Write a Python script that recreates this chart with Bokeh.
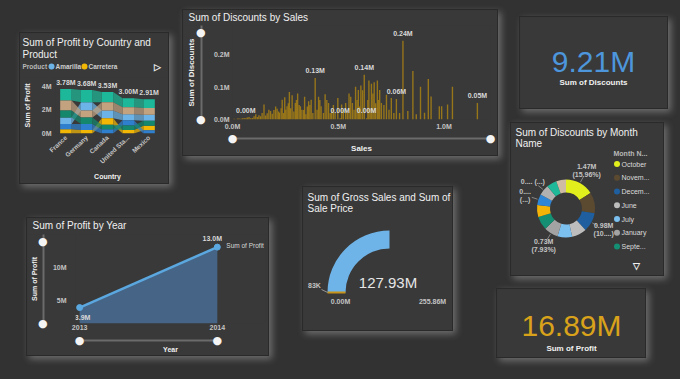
import math
from bokeh.plotting import figure
from bokeh.models import (Range1d, Label, LabelSet, ColumnDataSource, FixedTicker,
                          PrintfTickFormatter, CustomJSTickFormatter, LinearAxis)
from bokeh.layouts import column
from bokeh.embed import file_html
from bokeh.resources import INLINE
from bokeh.core.properties import value

# ---------------------------------------------------------------- data
countries = ["France", "Germany", "Canada", "United Sta...", "Mexico"]
products = ["Amarilla", "Carretera", "Montana", "Paseo", "Velo", "VTT"]
product_colors = ["#6cb4e8", "#f2b705", "#2f7fcf", "#1db899", "#c2a27f", "#14876c"]
profit_amarilla = [0.55, 0.70, 0.65, 0.50, 0.50]
profit_carretera = [0.35, 0.30, 0.55, 0.30, 0.38]
profit_montana = [0.45, 0.50, 0.35, 0.45, 0.28]
profit_paseo = [0.98, 1.03, 0.88, 0.77, 0.75]
profit_velo = [0.85, 0.60, 0.70, 0.60, 0.58]
profit_vtt = [0.60, 0.55, 0.40, 0.38, 0.42]
country_totals = [3.78, 3.68, 3.53, 3.00, 2.91]
country_profit_ticks = [0, 2, 4]

sales_m = [
    0.008, 0.016, 0.024, 0.031, 0.040, 0.047, 0.055, 0.063, 0.070, 0.078,
    0.086, 0.094, 0.102, 0.110, 0.118, 0.125, 0.133, 0.140, 0.149, 0.157,
    0.164, 0.172, 0.180, 0.188, 0.196, 0.204, 0.211, 0.218, 0.222, 0.230,
    0.235, 0.241, 0.247, 0.252, 0.258, 0.264, 0.269, 0.275, 0.282, 0.290,
    0.297, 0.302, 0.308, 0.315, 0.321, 0.328, 0.336, 0.341, 0.347, 0.354,
    0.360, 0.366, 0.372, 0.380, 0.391, 0.400, 0.407, 0.413, 0.419, 0.430,
    0.438, 0.446, 0.454, 0.462, 0.469, 0.477, 0.485, 0.498, 0.509, 0.516,
    0.524, 0.535, 0.543, 0.551, 0.559, 0.567, 0.575, 0.582, 0.589, 0.595,
    0.601, 0.607, 0.615, 0.623, 0.634, 0.640, 0.645, 0.651, 0.657, 0.664,
    0.670, 0.677, 0.685, 0.690, 0.696, 0.704, 0.716, 0.728, 0.740, 0.751,
    0.763, 0.775, 0.790, 0.806, 0.829, 0.853, 0.869, 0.889, 0.908, 0.926,
    0.939, 0.978, 0.989, 1.017, 1.040, 1.158]
discounts_m = [
    0.002, 0.001, 0.003, 0.003, 0.002, 0.004, 0.005, 0.004, 0.006, 0.008,
    0.004, 0.005, 0.010, 0.016, 0.008, 0.013, 0.010, 0.020, 0.046, 0.012,
    0.019, 0.030, 0.026, 0.018, 0.029, 0.040, 0.033, 0.025, 0.021, 0.035,
    0.061, 0.020, 0.069, 0.030, 0.041, 0.050, 0.085, 0.035, 0.075, 0.025,
    0.051, 0.060, 0.080, 0.045, 0.041, 0.030, 0.029, 0.070, 0.016, 0.040,
    0.056, 0.045, 0.061, 0.020, 0.128, 0.030, 0.070, 0.060, 0.041, 0.020,
    0.078, 0.060, 0.051, 0.020, 0.031, 0.045, 0.021, 0.066, 0.004, 0.046,
    0.030, 0.051, 0.020, 0.080, 0.070, 0.051, 0.030, 0.101, 0.060, 0.091,
    0.040, 0.105, 0.090, 0.138, 0.004, 0.060, 0.120, 0.035, 0.110, 0.080,
    0.115, 0.050, 0.120, 0.060, 0.091, 0.051, 0.045, 0.076, 0.030, 0.066,
    0.020, 0.063, 0.020, 0.243, 0.026, 0.150, 0.016, 0.101, 0.021, 0.125,
    0.071, 0.041, 0.041, 0.046, 0.101, 0.051]
labelled_bars = [7, 54, 68, 83, 84, 101, 103, 115]
sales_ticks = [0.0, 0.5, 1.0]
discount_ticks = [0.0, 0.1, 0.2]

years = [2013, 2014]
profit_by_year = [3.9, 13.0]
year_profit_ticks = [5, 10]
series_name = "Sum of Profit"

gross_sales_value = 127.93
gross_sales_min = 0.0
gross_sales_max = 255.86
sale_price_target = 0.083

months = ["October", "November", "December", "June", "July", "January",
          "September", "August", "March", "April", "May", "February"]
month_discounts = [1.47, 1.08, 0.98, 0.76, 0.75, 0.73, 0.70, 0.62, 0.56, 0.54, 0.52, 0.50]
month_colors = ["#e2ef1c", "#5c4a30", "#1f5f9f", "#bdbdbd", "#7cc0f0", "#a3a3a3",
                "#148f73", "#f3b307", "#2f86d6", "#b1b1b1", "#1fb899", "#cfbba3"]
labelled_months = ["October", "December", "January", "March", "April"]
month_label_lines = [["1.47M", "(15.96%)"], ["0.98M", "(10....)"], ["0.73M", "(7.93%)"],
                     ["0....", "(...)"], ["0.... (...)"]]
legend_months_shown = 7

kpi_values = [9.21, 16.89]
kpi_names = ["Sum of Discounts", "Sum of Profit"]
kpi_colors = ["#4d96dc", "#d9a21b"]

# ---------------------------------------------------------------- style
PAGE_BG = "#323232"
PANEL_BG = "#393939"
SHADOW = "0 0 0 1px #2a2a2a, 3px 3px 7px 1px rgba(185,185,185,0.45)"
FONT = "Liberation Sans"
WHITE = "#f0f0f0"
TICK = "#c4c4c4"
TRACK = "#6b6b6b"
BAR = "#a27c16"
AREA = "#47678a"
LINE = "#5ba8e0"
GAUGE = "#6fb4e8"
TARGET = "#c8941a"
TITLE_PX = 10


def fig(w, h, xr, yr, borders=(0, 0, 0, 0), axes=False):
    l, r, t, b = borders
    kw = {} if axes else dict(x_axis_location=None, y_axis_location=None)
    p = figure(width=w, height=h, x_range=xr, y_range=yr, title=None,
               output_backend="svg", toolbar_location=None, frame_align=False,
               min_border_left=l, min_border_right=r, min_border_top=t, min_border_bottom=b,
               background_fill_color=PANEL_BG, border_fill_color=PANEL_BG,
               outline_line_color=None, **kw)
    p.grid.visible = False
    return p


def header(w, h):
    # frame covers the whole canvas; y measured from the top
    return fig(w, h, Range1d(0, w), Range1d(h, 0))


def gtext(p, x, y, text, size=7, color=TICK, bold=False, align="left", baseline="middle"):
    p.text(x=[x], y=[y], text=[text], text_font=value(FONT), text_font_size=value(f"{size}px"),
           text_color=color, text_font_style="bold" if bold else "normal",
           text_align=align, text_baseline=baseline)


def style_axis(ax, ticks, fmt, standoff, size=7, bold=True):
    ax.ticker = FixedTicker(ticks=ticks)
    if fmt:
        ax.formatter = PrintfTickFormatter(format=fmt)
    ax.axis_line_color = None
    ax.major_tick_line_color = None
    ax.minor_tick_line_color = None
    ax.major_tick_out = 0
    ax.major_tick_in = 0
    ax.minor_tick_out = 0
    ax.minor_tick_in = 0
    ax.major_label_standoff = standoff
    ax.major_label_text_font = FONT
    ax.major_label_text_font_size = f"{size}px"
    ax.major_label_text_font_style = "bold" if bold else "normal"
    ax.major_label_text_color = TICK


def axis_title(ax, text, size, standoff):
    ax.axis_label = text
    ax.axis_label_text_font = FONT
    ax.axis_label_text_font_size = f"{size}px"
    ax.axis_label_text_font_style = "bold"
    ax.axis_label_text_color = WHITE
    ax.axis_label_standoff = standoff


def slider_axis(p, side, ends, title, title_size, title_standoff, pad_px, pad_standoff,
                knob_standoff, bounded=False):
    main = p.yaxis[0] if side == "left" else p.xaxis[0]
    main.axis_label = " "
    main.axis_label_text_font_size = f"{pad_px}px"
    main.axis_label_standoff = pad_standoff
    eps = (ends[1] - ends[0]) * 1e-4
    ax = LinearAxis(ticker=FixedTicker(ticks=[ends[0] + eps, ends[1] - eps]),
                    formatter=CustomJSTickFormatter(code="return '\u25cf';"))
    if bounded:
        ax.bounds = (ends[0], ends[1])
    ax.axis_line_color = TRACK
    ax.axis_line_width = 2
    ax.major_tick_line_color = None
    ax.minor_tick_line_color = None
    ax.major_tick_out = 0
    ax.major_tick_in = 0
    ax.minor_tick_out = 0
    ax.minor_tick_in = 0
    ax.major_label_standoff = knob_standoff
    ax.major_label_text_font = "DejaVu Sans"
    ax.major_label_text_font_size = "11px"
    ax.major_label_text_color = "#f4f4f4"
    if side == "left":
        ax.major_label_text_line_height = 0.5
    axis_title(ax, title, title_size, title_standoff)
    p.add_layout(ax, side)


# ---------------------------------------------------------------- P1 ribbon chart
h1 = header(148, 44)
gtext(h1, 2, 9, "Sum of Profit by Country and", TITLE_PX, WHITE)
gtext(h1, 2, 21, "Product", TITLE_PX, WHITE)
gtext(h1, 2, 33, "Product", 6.5, "#b8b8b8", bold=True)
leg_x = [31, 64]
h1.scatter(x=leg_x, y=[33, 33], size=6, fill_color=product_colors[:2], line_color=None)
h1.text(x=[v + 4 for v in leg_x], y=[33, 33], text=products[:2], text_font=value(FONT),
        text_font_size=value("6.5px"), text_font_style="bold", text_color="#d0d0d0",
        text_align="left", text_baseline="middle")
gtext(h1, 137, 33, "\u25b7", 9, WHITE, bold=True, align="center")

n = len(countries)
c1 = fig(148, 106, Range1d(-0.5, n - 0.5), Range1d(0, 4.75), (31, 9, 0, 45), axes=True)
prod_vals = [profit_amarilla, profit_carretera, profit_montana, profit_paseo, profit_velo, profit_vtt]
bottoms = [[0.0] * n for _ in products]
tops = [[0.0] * n for _ in products]
for i in range(n):
    order = sorted(range(len(products)), key=lambda k: prod_vals[k][i])
    cum = 0.0
    for k in order:
        bottoms[k][i] = cum
        cum += prod_vals[k][i]
        tops[k][i] = cum
BW = 0.55
for k in range(len(products)):
    xs, ys = [], []
    for i in range(n - 1):
        xs.append([i + BW / 2, i + 1 - BW / 2, i + 1 - BW / 2, i + BW / 2])
        ys.append([bottoms[k][i], bottoms[k][i + 1], tops[k][i + 1], tops[k][i]])
    c1.patches(xs, ys, fill_color=product_colors[k], fill_alpha=0.72, line_color=None)
for k in range(len(products)):
    c1.quad(left=[i - BW / 2 for i in range(n)], right=[i + BW / 2 for i in range(n)],
            bottom=bottoms[k], top=tops[k], fill_color=product_colors[k], line_color=None)
tot_src = ColumnDataSource(dict(x=list(range(n)), y=country_totals,
                                text=[f"{v:.2f}M" for v in country_totals]))
c1.add_layout(LabelSet(x="x", y="y", text="text", source=tot_src, text_font=value(FONT),
                       text_font_size="7px", text_font_style="bold", text_color="#d8d8d8",
                       text_align="center", text_baseline="bottom", y_offset=3))
style_axis(c1.yaxis[0], country_profit_ticks, "%dM", 4)
axis_title(c1.yaxis[0], "Sum of Profit", 7, 8)
style_axis(c1.xaxis[0], list(range(n)), None, 3, size=6.5)
c1.xaxis.major_label_overrides = {i: c for i, c in enumerate(countries)}
c1.xaxis.major_label_orientation = 0.75
axis_title(c1.xaxis[0], "Country", 7, 3)
panel1 = column(h1, c1)

# ---------------------------------------------------------------- P2 discounts by sales
h2 = header(314, 15)
gtext(h2, 5, 7, "Sum of Discounts by Sales", TITLE_PX, WHITE)
c2 = fig(314, 130, Range1d(0, 1.22), Range1d(0, 0.29), (47, 7, 0, 33), axes=True)
c2.vbar(x=sales_m, top=discounts_m, width=0.0065, fill_color=BAR, fill_alpha=0.9, line_color=None)
lab_src = ColumnDataSource(dict(x=[sales_m[i] for i in labelled_bars],
                                y=[discounts_m[i] for i in labelled_bars],
                                text=[f"{discounts_m[i]:.2f}M" for i in labelled_bars]))
c2.add_layout(LabelSet(x="x", y="y", text="text", source=lab_src, text_font=value(FONT),
                       text_font_size="7px", text_font_style="bold", text_color="#d8d8d8",
                       text_align="center", text_baseline="bottom", y_offset=4))
style_axis(c2.yaxis[0], discount_ticks, "%.1fM", 3)
style_axis(c2.xaxis[0], sales_ticks, "%.1fM", 3)
slider_axis(c2, "left", (0, 0.29), "Sum of Discounts", 8, -3, 4, 1, -4)
slider_axis(c2, "below", (0, 1.22), "Sales", 8, -4, 3, 0, -7)
panel2 = column(h2, c2)

# ---------------------------------------------------------------- P4 profit by year
h4 = header(241, 16)
gtext(h4, 5, 7, "Sum of Profit by Year", TITLE_PX, WHITE)
c4 = fig(241, 121, Range1d(2012.97, 2014.35), Range1d(1.5, 14.9), (47, 3, 0, 32), axes=True)
c4.varea(x=years, y1=[c4.y_range.start] * len(years), y2=profit_by_year,
         fill_color=AREA, fill_alpha=0.95)
c4.line(years, profit_by_year, line_color=LINE, line_width=2.5)
c4.scatter(years, profit_by_year, size=6, fill_color=LINE, line_color=LINE)
c4.add_layout(Label(x=years[0], y=profit_by_year[0], text=f"{profit_by_year[0]:.1f}M",
                    text_font=FONT, text_font_size="7px", text_font_style="bold",
                    text_color="#d8d8d8", text_align="center", text_baseline="middle",
                    y_offset=-10, x_offset=3))
c4.add_layout(Label(x=years[1], y=profit_by_year[1], text=f"{profit_by_year[1]:.1f}M",
                    text_font=FONT, text_font_size="7px", text_font_style="bold",
                    text_color="#d8d8d8", text_align="center", text_baseline="middle",
                    y_offset=9, x_offset=-5))
c4.add_layout(Label(x=years[-1], y=profit_by_year[-1], text=series_name,
                    text_font=FONT, text_font_size="6.5px", text_color="#d8d8d8",
                    text_align="left", text_baseline="middle", x_offset=9, y_offset=2))
style_axis(c4.yaxis[0], year_profit_ticks, "%dM", 9)
style_axis(c4.xaxis[0], years, "%d", 1)
slider_axis(c4, "left", (c4.y_range.start, c4.y_range.end), "Sum of Profit", 7, -3, 2, 1, -4)
slider_axis(c4, "below", (years[0], years[1]), "Year", 7, -4, 3, 2, -7, bounded=True)
panel4 = column(h4, c4)

# ---------------------------------------------------------------- gauge
pg = fig(149, 143, Range1d(0, 149), Range1d(0, 143))
GCX, GCY, G_IN, G_OUT = 86, 38, 44, 62
frac = (gross_sales_value - gross_sales_min) / (gross_sales_max - gross_sales_min)
pg.annular_wedge(x=[GCX], y=[GCY], inner_radius=G_IN, outer_radius=G_OUT,
                 start_angle=[math.pi - math.pi * frac], end_angle=[math.pi],
                 fill_color=GAUGE, line_color=None)
ta = math.pi - math.pi * (sale_price_target - gross_sales_min) / (gross_sales_max - gross_sales_min)
pg.segment(x0=[GCX + G_IN * math.cos(ta)], y0=[GCY + G_IN * math.sin(ta)],
           x1=[GCX + G_OUT * math.cos(ta)], y1=[GCY + G_OUT * math.sin(ta)],
           line_color=TARGET, line_width=2)
pg.segment(x0=[GCX + G_OUT * math.cos(ta)], y0=[GCY + G_OUT * math.sin(ta)],
           x1=[GCX + (G_OUT + 6) * math.cos(ta)], y1=[GCY + 3],
           line_color="#aaaaaa", line_width=0.8)
gtext(pg, 84.5, 48.5, f"{gross_sales_value:.2f}M", 15, "#e6e6e6", align="center")
gtext(pg, 37, 29, f"{gross_sales_min:.2f}M", 7, TICK, bold=True, align="center")
gtext(pg, 129, 29, f"{gross_sales_max:.2f}M", 7, TICK, bold=True, align="center")
gtext(pg, 11, 45, f"{sale_price_target * 1000:.0f}K", 7, TICK, bold=True, align="center")
gtext(pg, 4, 133.3, "Sum of Gross Sales and Sum of", TITLE_PX, WHITE)
gtext(pg, 4, 121.7, "Sale Price", TITLE_PX, WHITE)

# ---------------------------------------------------------------- donut
pdn = fig(152, 152, Range1d(0, 152), Range1d(0, 152))
DCX, DCY, R_IN, R_OUT = 54.5, 67, 16, 29
total = sum(month_discounts)
starts, ends, mids = [], [], []
cum = 0.0
for v in month_discounts:
    a0 = math.pi / 2 - 2 * math.pi * cum / total
    cum += v
    a1 = math.pi / 2 - 2 * math.pi * cum / total
    starts.append(a0)
    ends.append(a1)
    mids.append((a0 + a1) / 2)
pdn.annular_wedge(x=DCX, y=DCY, inner_radius=R_IN, outer_radius=R_OUT, start_angle=starts,
                  end_angle=ends, direction="clock", fill_color=month_colors, line_color=None)
lxs, lys, ltx, lead_x, lead_y = [], [], [], [], []
for name, lines in zip(labelled_months, month_label_lines):
    m = mids[months.index(name)]
    ux, uy = math.cos(m), math.sin(m)
    ax_, ay_ = DCX + 43 * ux, DCY + 43 * uy
    lead_x.append([DCX + (R_OUT + 1) * ux, DCX + (R_OUT + 7) * ux])
    lead_y.append([DCY + (R_OUT + 1) * uy, DCY + (R_OUT + 7) * uy])
    if len(lines) == 2:
        lxs += [ax_, ax_]
        lys += [ay_ + 4, ay_ - 4]
        ltx += lines
    else:
        lxs.append(ax_)
        lys.append(ay_)
        ltx.append(lines[0])
pdn.multi_line(lead_x, lead_y, line_color="#9a9a9a", line_width=0.8)
pdn.text(x=lxs, y=lys, text=ltx, text_font=value(FONT), text_font_size=value("7px"),
         text_font_style="bold", text_color=TICK, text_align="center", text_baseline="middle")
leg_y = [111.5 - 13.75 * i for i in range(legend_months_shown)]
leg_names = [mn if len(mn) <= 7 else mn[:5] + "..." for mn in months[:legend_months_shown]]
pdn.scatter(x=[105.5] * legend_months_shown, y=leg_y, size=6,
            fill_color=month_colors[:legend_months_shown], line_color=None)
pdn.text(x=[110] * legend_months_shown, y=leg_y, text=leg_names, text_font=value(FONT),
         text_font_size=value("7px"), text_color="#dcdcdc", text_align="left",
         text_baseline="middle")
gtext(pdn, 102, 122, "Month N...", 7, "#b8b8b8", bold=True)
gtext(pdn, 125, 10, "\u25bd", 9, WHITE, bold=True, align="center")
gtext(pdn, 4, 143.3, "Sum of Discounts by Month", TITLE_PX, WHITE)
gtext(pdn, 4, 131.7, "Name", TITLE_PX, WHITE)

# ---------------------------------------------------------------- KPI cards
pk1 = fig(147, 91, Range1d(0, 147), Range1d(0, 91))
gtext(pk1, 73, 47, f"{kpi_values[0]:.2f}M", 30, kpi_colors[0], align="center")
gtext(pk1, 73, 26.5, kpi_names[0], 8, WHITE, bold=True, align="center")
pk2 = fig(148, 68, Range1d(0, 148), Range1d(0, 68))
gtext(pk2, 74, 32.5, f"{kpi_values[1]:.2f}M", 30, kpi_colors[1], align="center")
gtext(pk2, 74, 9, kpi_names[1], 8, WHITE, bold=True, align="center")

# ---------------------------------------------------------------- page layout
# (panel, left, top, height) in page pixels, ordered by top edge
placements = [(panel2, 183, 10, 145), (pk1, 520, 17, 91), (panel1, 20, 33, 150),
              (pdn, 511, 123, 152), (pg, 303, 187, 143), (panel4, 27, 218, 137),
              (pk2, 497, 289, 68)]
cursor = 0
for obj, x, y, h in placements:
    obj.margin = (y - cursor, 0, 0, x)
    obj.styles = {"box-shadow": SHADOW, "background-color": PANEL_BG}
    cursor = y + h
root = column([pl[0] for pl in placements], spacing=0)

html = file_html(root, INLINE, title="Dashboard")
html = html.replace("</head>", f"<style>html, body {{ margin: 0; padding: 0; "
                               f"background-color: {PAGE_BG}; }}</style></head>", 1)
open("out.html", "w").write(html)
